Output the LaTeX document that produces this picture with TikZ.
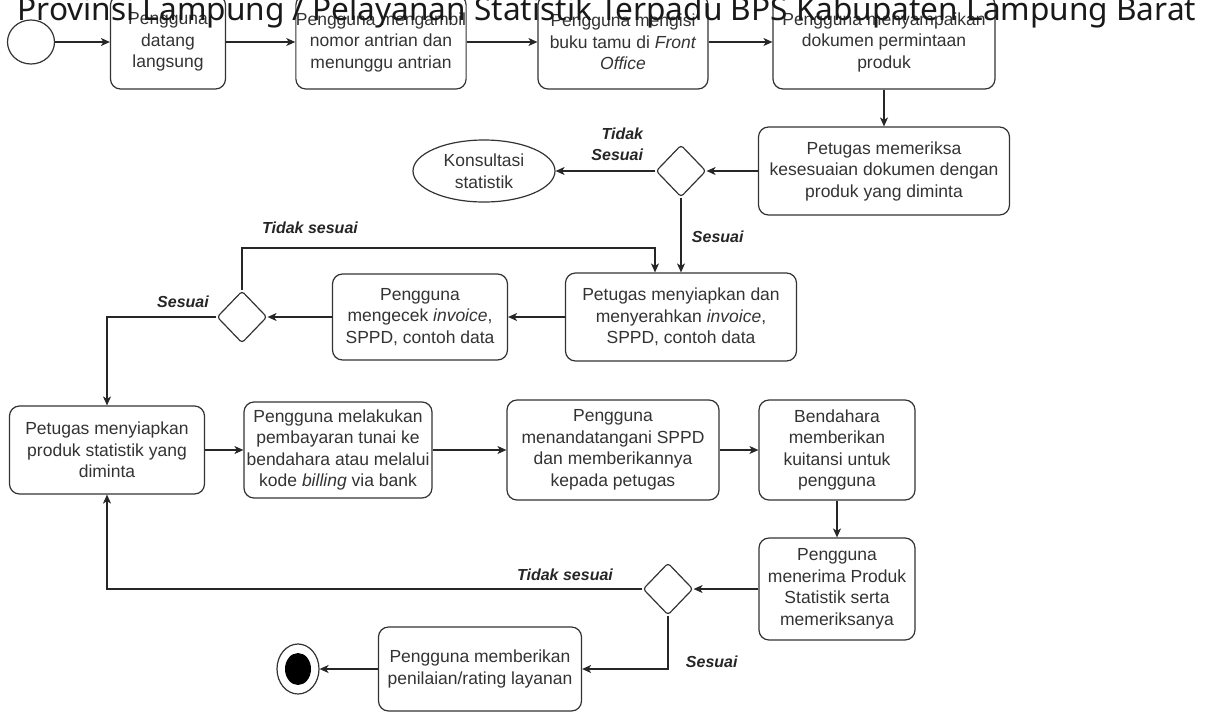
\documentclass[tikz,border=0pt]{standalone}
\usepackage{fontspec}
\setmainfont{Liberation Sans}
\newfontfamily\titlefont{Noto Sans}
\usetikzlibrary{shapes.geometric,arrows.meta}
\begin{document}
\begin{tikzpicture}[x=1pt,y=-1pt,line width=1.2pt,
  act/.style={draw=black!80,rounded corners=10pt,align=center,inner sep=0pt,text=black!80,font=\fontsize{17.5}{21.5}\selectfont},
  keputusan/.style={draw=black!80,diamond,rounded corners=3pt,inner sep=0pt,minimum width=50pt,minimum height=52pt},
  ket/.style={font=\fontsize{16}{21}\selectfont\bfseries\itshape,text=black!85},
  arr/.style={draw=black!85,-{Stealth[length=9pt,width=8pt,inset=2.5pt]}}]
\useasboundingbox (0,0) rectangle (1208,713);

\node[draw=black!80,ellipse,minimum width=47pt,minimum height=44pt] (mulai) at (31,42) {};
\node[act,minimum width=115pt,minimum height=94pt] (b1) at (168,42) {Pengguna\\datang\\langsung};
\node[act,minimum width=169pt,minimum height=94pt] (b2) at (381,42) {Pengguna mengambil\\nomor antrian dan\\menunggu antrian};
\node[act,minimum width=170pt,minimum height=94pt] (b3) at (623,42) {Pengguna mengisi\\buku tamu di \textit{Front}\\\textit{Office}};
\node[act,minimum width=222pt,minimum height=94pt] (b4) at (884,42) {Pengguna menyampaikan\\dokumen permintaan\\produk};

\node[act,minimum width=251pt,minimum height=88pt] (b5) at (884,171) {Petugas memeriksa\\kesesuaian dokumen dengan\\produk yang diminta};
\node[keputusan] (d1) at (681,171) {};
\node[draw=black!80,ellipse,minimum width=142pt,minimum height=62pt,align=center,inner sep=0pt,text=black!80,font=\fontsize{17.5}{21.5}\selectfont] (konsul) at (484,171) {Konsultasi\\statistik};

\node[act,minimum width=231pt,minimum height=88pt] (b6) at (681,317) {Petugas menyiapkan dan\\menyerahkan \textit{invoice},\\SPPD, contoh data};
\node[act,minimum width=175pt,minimum height=86pt] (b7) at (420,317) {Pengguna\\mengecek \textit{invoice},\\SPPD, contoh data};
\node[keputusan] (d2) at (242,317) {};

\node[act,minimum width=195pt,minimum height=88pt] (b8) at (107,450) {Petugas menyiapkan\\produk statistik yang\\diminta};
\node[act,minimum width=188pt,minimum height=96pt] (b9) at (338,450) {Pengguna melakukan\\pembayaran tunai ke\\bendahara atau melalui\\kode \textit{billing} via bank};
\node[act,minimum width=212pt,minimum height=100pt] (b10) at (613,450) {Pengguna\\menandatangani SPPD\\dan memberikannya\\kepada petugas};
\node[act,minimum width=156pt,minimum height=100pt] (b11) at (837,450) {Bendahara\\memberikan\\kuitansi untuk\\pengguna};

\node[act,minimum width=156pt,minimum height=102pt] (b12) at (837,589) {Pengguna\\menerima Produk\\Statistik serta\\memeriksanya};
\node[keputusan] (d3) at (668,589) {};
\node[act,minimum width=203pt,minimum height=84pt] (b13) at (480,669) {Pengguna memberikan\\penilaian/rating layanan};
\node[draw=black!80,ellipse,minimum width=42pt,minimum height=50pt] (selesai) at (298,669) {};
\fill[black] (selesai.center) ellipse (13pt and 16pt);

\foreach \a/\b in {mulai/b1,b1/b2,b2/b3,b3/b4,b4/b5,b5/d1,d1/konsul,d1/b6,b6/b7,b7/d2,b8/b9,b9/b10,b10/b11,b11/b12,b12/d3,b13/selesai}
{
    \draw[arr] (\a) -- (\b);
}
\coordinate (balik) at (655,248);
\draw[arr] (d2.north) |- (balik) -- (balik |- b6.north);
\draw[arr] (d2.west) -| (b8.north);
\draw[arr] (d3.west) -| (b8.south);
\draw[arr] (d3.south) |- (b13.east);

\node[ket,align=right,anchor=east] (k1) at (647,144) {Tidak\\Sesuai};
\node[ket,anchor=west] (k2) at (688,237) {Sesuai};
\node[ket] (k3) at (310,228) {Tidak sesuai};
\node[ket] (k4) at (183,302) {Sesuai};
\node[ket] (k5) at (565,575) {Tidak sesuai};
\node[ket,anchor=west] (k6) at (682,662) {Sesuai};

\node[anchor=base west,inner sep=0pt,font=\titlefont\fontsize{31.6}{32}\selectfont,text=black!90] (judul) at (17,20) {Provinsi Lampung / Pelayanan Statistik Terpadu BPS Kabupaten Lampung Barat};
\end{tikzpicture}
\end{document}
